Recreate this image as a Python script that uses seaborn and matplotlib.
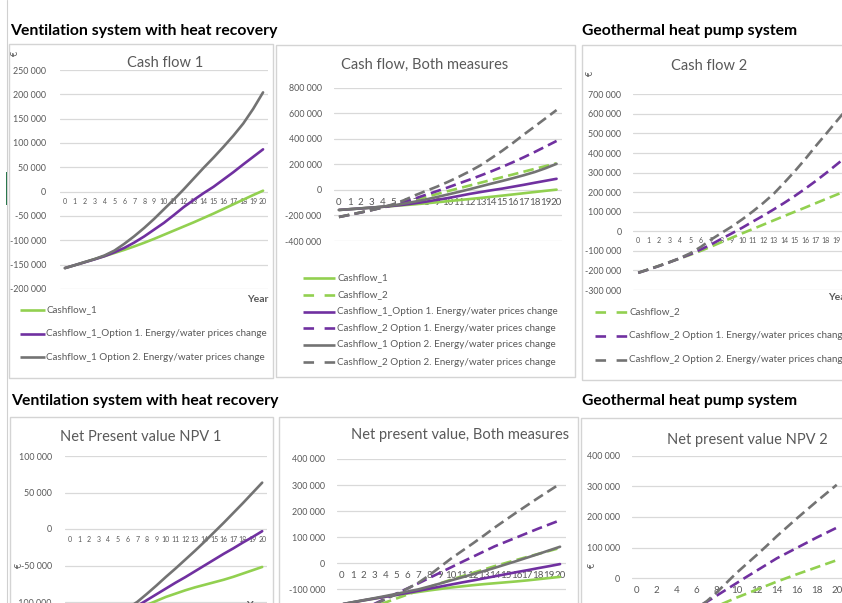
import matplotlib
matplotlib.use("Agg")
import matplotlib.pyplot as plt
from matplotlib.lines import Line2D
from matplotlib.patches import Rectangle
from matplotlib.ticker import FuncFormatter
import pandas as pd
import seaborn as sns

# ---------------------------------------------------------------- data
YEARS = list(range(21))

# Cumulative cash flow (EUR)
CASHFLOW_1 = [-157000, -151000, -145000, -138500, -132500, -126000, -119500, -112500,
              -105000, -97000, -88500, -80000, -71500, -63000, -54000, -45000, -35500,
              -26000, -16500, -7000, 2000]
CASHFLOW_1_OPT1 = [-157000, -151000, -145000, -139000, -132500, -124500, -115500, -104500,
                   -92000, -78000, -64000, -48000, -31500, -17000, -3000, 10000, 25000,
                   40000, 56000, 71500, 87000]
CASHFLOW_1_OPT2 = [-157000, -151000, -144500, -138500, -131000, -121000, -107000, -91500,
                   -74500, -56000, -36000, -16000, 5000, 27000, 49000, 70000, 92000,
                   115000, 140000, 170000, 204000]
CASHFLOW_2 = [-212000, -194000, -176000, -157500, -139000, -120000, -100000, -78000,
              -55000, -32500, -10000, 12000, 34000, 56000, 78000, 99500, 121000, 143000,
              165000, 186500, 208000]
CASHFLOW_2_OPT1 = [-212000, -195000, -177000, -158000, -138000, -117000, -93000, -67000,
                   -38000, -10000, 19000, 50000, 80000, 112000, 145000, 180000, 217000,
                   256000, 297000, 340000, 383000]
CASHFLOW_2_OPT2 = [-212000, -195000, -177000, -158000, -137000, -112000, -80000, -42000,
                   -8000, 25000, 62000, 102000, 145000, 192000, 248000, 306000, 368000,
                   434000, 497000, 561000, 625000]

# Net present value (EUR)
NPV_1 = [-157000, -149500, -142500, -135500, -128500, -122000, -116000, -110000, -104000,
         -98500, -93000, -88500, -84000, -80000, -76500, -73000, -69500, -65500, -61000,
         -56500, -52000]
NPV_1_OPT1 = [-157000, -149500, -142000, -135000, -128000, -121000, -113500, -105500,
              -97500, -89500, -81500, -73500, -66000, -58000, -50000, -42000, -34000,
              -26500, -18500, -11000, -3000]
NPV_1_OPT2 = [-157000, -149000, -141000, -133500, -125500, -117000, -108500, -100000,
              -89000, -77500, -65500, -54000, -42000, -30000, -17500, -4500, 8500, 22000,
              35500, 49500, 63500]
NPV_2 = [-212000, -196000, -180500, -165000, -150000, -135000, -120000, -105000, -91000,
         -77000, -63000, -50000, -37000, -24000, -11000, 1000, 13000, 24500, 36000,
         47500, 59000]
NPV_2_OPT1 = [-212000, -193000, -174000, -155000, -135500, -116000, -96500, -77000,
              -56500, -36000, -15500, 5000, 25000, 45000, 65000, 82000, 99000, 116000,
              133000, 149000, 165000]
NPV_2_OPT2 = [-212000, -194000, -175500, -157000, -138000, -118000, -97000, -75000,
              -46000, -14000, 18000, 47000, 76000, 106000, 137000, 166000, 195000,
              223000, 251000, 278000, 305000]

LABEL_CF1 = "Cashflow_1"
LABEL_CF2 = "Cashflow_2"
LABEL_CF1_OPT1 = "Cashflow_1_Option 1. Energy/water prices change"
LABEL_CF2_OPT1 = "Cashflow_2 Option 1. Energy/water prices change"
LABEL_CF1_OPT2 = "Cashflow_1 Option 2. Energy/water prices change"
LABEL_CF2_OPT2 = "Cashflow_2 Option 2. Energy/water prices change"

HEADING_1 = "Ventilation system with heat recovery"
HEADING_2 = "Geothermal heat pump system"

# ---------------------------------------------------------------- style
W, H = 842, 603
GREEN, PURPLE, GREY = "#92D050", "#7030A0", "#737373"
TXT, GRID, BORDER = "#595959", "#d9d9d9", "#d4d4d4"
LW = 1.9
DASH = (4, 2)

sns.set_theme(style="white")
plt.rcParams["font.family"] = ["Lato", "DejaVu Sans"]

fig = plt.figure(figsize=(W / 100, H / 100), dpi=100)
fig.patch.set_facecolor("white")


def fx(x):
    return x / W


def fy(y):
    return 1 - y / H


def thousands(v, _pos=None):
    return f"{int(round(v)):,}".replace(",", " ")


def box(x0, y0, x1, y1):
    fig.add_artist(Rectangle((fx(x0), fy(y1)), (x1 - x0) / W, (y1 - y0) / H,
                             transform=fig.transFigure, fill=False,
                             edgecolor=BORDER, lw=1.0))


def place_axes(x0, x1, ref_a, ref_b, ylim):
    (pa, va), (pb, vb) = ref_a, ref_b
    s = (pb - pa) / (vb - va)
    top = pa + (ylim[1] - va) * s
    bot = pa + (ylim[0] - va) * s
    ax = fig.add_axes([fx(x0), 1 - bot / H, (x1 - x0) / W, (bot - top) / H])
    ax.set_xlim(-0.5, 20.5)
    ax.set_ylim(*ylim)
    return ax


def draw_series(ax, series):
    rows = []
    for label, values, _c, _d in series:
        rows += [{"Year": y, "Value": v, "Series": label} for y, v in zip(YEARS, values)]
    df = pd.DataFrame(rows)
    order = [s[0] for s in series]
    sns.lineplot(data=df, x="Year", y="Value", hue="Series", style="Series",
                 hue_order=order, style_order=order,
                 palette={s[0]: s[2] for s in series},
                 dashes={s[0]: (DASH if s[3] else "") for s in series},
                 linewidth=LW, legend=False, ax=ax, sort=False)
    for ln in ax.get_lines():
        ln.set_solid_capstyle("round")
        ln.set_clip_on(True)
    ax.set_xlabel("")
    ax.set_ylabel("")


def style_axes(ax, yticks, xticks, xsize, xoffset_px, ypad, ysize=6.4):
    ax.set_facecolor("none")
    for sp in ax.spines.values():
        sp.set_visible(False)
    ax.spines["bottom"].set_position(("data", 0))
    ax.set_yticks(yticks)
    ax.yaxis.set_major_formatter(FuncFormatter(thousands))
    ax.set_xticks(xticks)
    ax.set_xticklabels([str(t) for t in xticks])
    ax.grid(False)
    ax.yaxis.grid(True, color=GRID, lw=0.9)
    ax.set_axisbelow(True)
    xpad = (xoffset_px - 0.62 * xsize * 100 / 72) * 72 / 100
    ax.tick_params(axis="y", length=0, pad=ypad, labelsize=ysize, labelcolor=TXT)
    ax.tick_params(axis="x", length=0, pad=xpad, labelsize=xsize, labelcolor=TXT)


def legend(entries, ys, lx0, lx1, tx, size=7.1):
    for (label, _v, color, dashed), y in zip(entries, ys):
        ln = Line2D([fx(lx0), fx(lx1)], [fy(y), fy(y)], transform=fig.transFigure,
                    color=color, lw=LW, solid_capstyle="butt")
        if dashed:
            ln.set_dashes((4, 4))
        fig.add_artist(ln)
        fig.text(fx(tx), fy(y), label, ha="left", va="center", fontsize=size, color=TXT)


def title(x, y, text, size=10.5):
    fig.text(fx(x), fy(y), text, ha="center", va="center", fontsize=size, color=TXT)


def euro(x, y):
    fig.text(fx(x), fy(y), "€", ha="center", va="center", rotation=90,
             fontsize=6.4, color=TXT)


# spreadsheet edge
fig.add_artist(Line2D([fx(6.5), fx(6.5)], [0, 1], transform=fig.transFigure,
                      color="#d0d0d0", lw=0.8))
fig.add_artist(Rectangle((fx(5.5), fy(205)), 2.5 / W, 33 / H, transform=fig.transFigure,
                         color="#217346", lw=0))

# section headings
for x, y, t in [(10, 34.5, HEADING_1), (582, 34.5, HEADING_2),
                (11, 405.5, HEADING_1), (582, 405.5, HEADING_2)]:
    fig.text(fx(x), fy(y), t, ha="left", va="baseline", fontsize=11.3,
             fontweight="bold", color="black")

cf1 = [(LABEL_CF1, CASHFLOW_1, GREEN, False),
       (LABEL_CF1_OPT1, CASHFLOW_1_OPT1, PURPLE, False),
       (LABEL_CF1_OPT2, CASHFLOW_1_OPT2, GREY, False)]
cf2 = [(LABEL_CF2, CASHFLOW_2, GREEN, True),
       (LABEL_CF2_OPT1, CASHFLOW_2_OPT1, PURPLE, True),
       (LABEL_CF2_OPT2, CASHFLOW_2_OPT2, GREY, True)]
cf_both = [cf1[0], cf2[0], cf1[1], cf2[1], cf1[2], cf2[2]]

npv1 = [(LABEL_CF1, NPV_1, GREEN, False),
        (LABEL_CF1_OPT1, NPV_1_OPT1, PURPLE, False),
        (LABEL_CF1_OPT2, NPV_1_OPT2, GREY, False)]
npv2 = [(LABEL_CF2, NPV_2, GREEN, True),
        (LABEL_CF2_OPT1, NPV_2_OPT1, PURPLE, True),
        (LABEL_CF2_OPT2, NPV_2_OPT2, GREY, True)]
npv_both = [npv1[0], npv2[0], npv1[1], npv2[1], npv1[2], npv2[2]]

# ---- Cash flow 1
box(8.5, 43.5, 273, 378)
ax = place_axes(60, 268, (70, 250000), (289, -200000), (-200000, 250000))
draw_series(ax, cf1)
style_axes(ax, range(-200000, 250001, 50000), YEARS, 5, 11, 10)
title(165, 63, "Cash flow 1")
euro(15, 53)
fig.text(fx(268), fy(299), "Year", ha="right", va="center", fontsize=7.5,
         fontweight="bold", color=TXT)
legend(cf1, [310, 333.5, 357], 20, 45, 46.5)

# ---- Cash flow, Both measures
box(276, 45, 575, 377)
ax = place_axes(333.5, 562, (87.7, 800000), (241, -400000), (-400000, 800000))
draw_series(ax, cf_both)
style_axes(ax, range(-400000, 800001, 200000), YEARS, 7, 14, 8.5)
title(425, 65, "Cash flow, Both measures")
legend(cf_both, [277.7, 295, 311.7, 328.3, 345, 362.3], 303, 335, 337)

# ---- Cash flow 2
box(582, 45, 900, 380)
ax = place_axes(633, 852, (94.3, 700000), (290, -300000), (-300000, 700000))
draw_series(ax, cf2)
style_axes(ax, range(-300000, 700001, 100000), YEARS, 5, 10, 8.3)
title(709, 66, "Cash flow 2")
euro(590, 73)
fig.text(fx(828), fy(298), "Year", ha="left", va="center", fontsize=7.5,
         fontweight="bold", color=TXT)
legend(cf2, [311.7, 336, 360], 595, 627, 629)

# ---- NPV 1
box(10, 417, 273, 700)
ax = place_axes(65, 267, (456, 100000), (529, 0), (-150000, 100000))
draw_series(ax, npv1)
style_axes(ax, range(-150000, 100001, 50000), YEARS, 5, 11, 9.5)
title(141, 437, "Net Present value NPV 1")
euro(19, 565)
fig.text(fx(267), fy(606), "Year", ha="right", va="center", fontsize=7.5,
         fontweight="bold", color=TXT)

# ---- NPV, Both measures
box(279, 417, 578, 700)
ax = place_axes(336.5, 565.5, (459, 400000), (563.3, 0), (-200000, 400000))
draw_series(ax, npv_both)
style_axes(ax, range(-200000, 400001, 100000), YEARS, 7, 14, 8.3)
title(460, 435, "Net present value, Both measures")

# ---- NPV 2
box(581, 418, 900, 700)
ax = place_axes(631.7, 841.7, (455.7, 400000), (578.3, 0), (-200000, 400000))
draw_series(ax, npv2)
style_axes(ax, range(-200000, 400001, 100000), list(range(0, 21, 2)), 7, 14, 8.4)
title(747, 440, "Net present value NPV 2")
euro(592, 565)

fig.savefig("out.png", dpi=100, facecolor="white")
